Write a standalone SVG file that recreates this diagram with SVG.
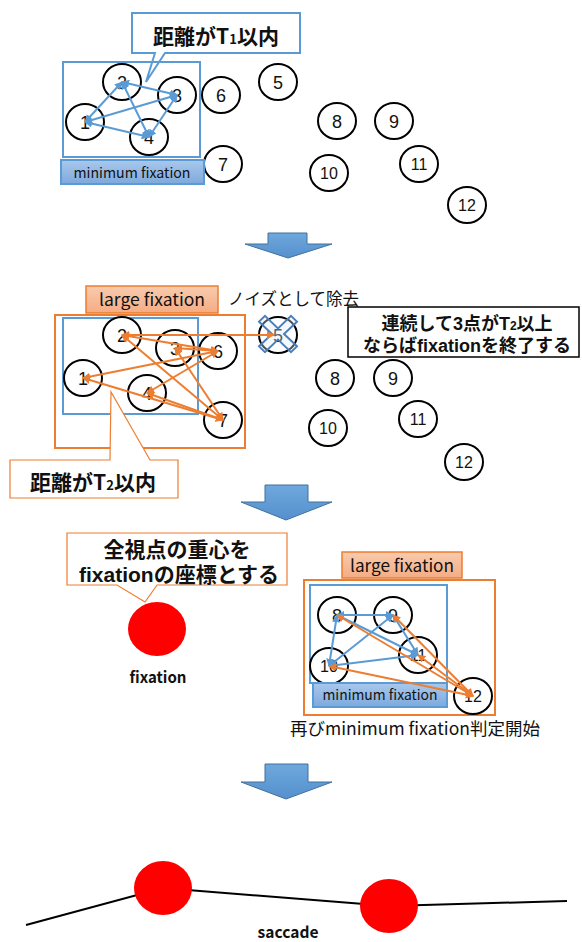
<svg xmlns="http://www.w3.org/2000/svg" width="582" height="942" viewBox="0 0 582 942">
<style>
text{font-family:"Noto Sans CJK JP","Noto Sans",sans-serif;fill:#111}
.ml{font-family:"Liberation Sans","Noto Sans CJK JP",sans-serif}
.nd ellipse{fill:#fff;stroke:#000;stroke-width:2}
.num{font-family:"Liberation Sans",sans-serif;font-size:18px;text-anchor:middle}
.num2{font-family:"Liberation Sans",sans-serif;font-size:16px;text-anchor:middle}
.bl{stroke:#5B9BD5;stroke-width:2;fill:none;marker-start:url(#bh);marker-end:url(#bh)}
.or{stroke:#ED7D31;stroke-width:2;fill:none;marker-start:url(#oh);marker-end:url(#oh)}
.bframe{fill:none;stroke:#5B9BD5;stroke-width:2}
.oframe{fill:none;stroke:#ED7D31;stroke-width:2}
.minlab{fill:url(#gb);stroke:#5B9BD5;stroke-width:2}
.larlab{fill:url(#go);stroke:#ED7D31;stroke-width:1.5}
.bigarrow{fill:url(#ga);stroke:#41719C;stroke-width:1}
.lab{font-size:14px;text-anchor:middle}
.lab2{font-size:17px;text-anchor:middle}
.call{font-size:21px;font-weight:bold;text-anchor:middle}
.red{fill:#FF0000}
</style>
<defs>
<marker id="bh" viewBox="0 0 10 10" refX="9" refY="5" markerWidth="4" markerHeight="4" orient="auto-start-reverse"><path d="M0,0 L10,5 L0,10 z" fill="#5B9BD5"/></marker>
<marker id="oh" viewBox="0 0 10 10" refX="9" refY="5" markerWidth="4" markerHeight="4" orient="auto-start-reverse"><path d="M0,0 L10,5 L0,10 z" fill="#ED7D31"/></marker>
<linearGradient id="gb" x1="0" y1="0" x2="0" y2="1"><stop offset="0" stop-color="#A9C8EC"/><stop offset="1" stop-color="#7EA9DC"/></linearGradient>
<linearGradient id="go" x1="0" y1="0" x2="0" y2="1"><stop offset="0" stop-color="#F8CBAD"/><stop offset="1" stop-color="#F4AC84"/></linearGradient>
<linearGradient id="ga" x1="0" y1="0" x2="0" y2="1"><stop offset="0" stop-color="#6FA8DC"/><stop offset="1" stop-color="#5590CE"/></linearGradient>
</defs>

<!-- Section 1 -->
<g id="callout-t1">
<path d="M132,13 H300 V53 H165 L146,82 L155,53 H132 Z" fill="#fff" stroke="#5B9BD5" stroke-width="2"/>
<text class="call" x="216" y="44">距離がT<tspan font-size="13">1</tspan>以内</text>
</g>
<g id="min-frame-1"><rect class="bframe" x="63" y="62" width="137" height="95"/></g>
<g id="s1-n1" class="nd"><ellipse cx="85" cy="122" rx="19" ry="18"/><text class="num" x="85" y="128.5">1</text></g>
<g id="s1-n2" class="nd"><ellipse cx="122" cy="82" rx="19" ry="18"/><text class="num" x="122" y="88.5">2</text></g>
<g id="s1-n3" class="nd"><ellipse cx="177" cy="95" rx="19" ry="18"/><text class="num" x="177" y="101.5">3</text></g>
<g id="s1-n4" class="nd"><ellipse cx="149" cy="137" rx="19" ry="18"/><text class="num" x="149" y="143.5">4</text></g>
<g id="s1-n5" class="nd"><ellipse cx="278" cy="82" rx="19" ry="18"/><text class="num" x="278" y="88.5">5</text></g>
<g id="s1-n6" class="nd"><ellipse cx="221" cy="95" rx="19" ry="18"/><text class="num" x="221" y="101.5">6</text></g>
<g id="s1-n7" class="nd"><ellipse cx="223" cy="164" rx="19" ry="18"/><text class="num" x="223" y="170.5">7</text></g>
<g id="s1-n8" class="nd"><ellipse cx="337" cy="121" rx="19" ry="18"/><text class="num" x="337" y="127.5">8</text></g>
<g id="s1-n9" class="nd"><ellipse cx="394" cy="121" rx="19" ry="18"/><text class="num" x="394" y="127.5">9</text></g>
<g id="s1-n10" class="nd"><ellipse cx="329" cy="173" rx="19" ry="18"/><text class="num2" x="329" y="179">10</text></g>
<g id="s1-n11" class="nd"><ellipse cx="419" cy="164" rx="19" ry="18"/><text class="num2" x="419" y="170">11</text></g>
<g id="s1-n12" class="nd"><ellipse cx="467" cy="205" rx="19" ry="18"/><text class="num2" x="467" y="211">12</text></g>
<g id="min-label-1"><rect class="minlab" x="61" y="160" width="143" height="24"/><text class="lab" x="132" y="178" textLength="117" lengthAdjust="spacingAndGlyphs">minimum fixation</text></g>

<!-- arrow 1 -->
<g id="arrow-1"><polygon class="bigarrow" points="268,233 307,233 307,244 332,244 288,258 245,244 268,244"/></g>

<!-- Section 2 -->
<g id="large-label-2"><rect class="larlab" x="86" y="286" width="132" height="27"/><text class="lab2" x="152" y="306" textLength="106" lengthAdjust="spacingAndGlyphs">large fixation</text></g>
<g id="large-frame-2"><rect class="oframe" x="55" y="315" width="190" height="133"/></g>
<g id="min-frame-2"><rect class="bframe" x="63" y="318" width="135" height="96"/></g>
<g id="s2-n1" class="nd"><ellipse cx="83" cy="378" rx="19" ry="18"/><text class="num" x="83" y="384.5">1</text></g>
<g id="s2-n2" class="nd"><ellipse cx="122" cy="335" rx="19" ry="18"/><text class="num" x="122" y="341.5">2</text></g>
<g id="s2-n3" class="nd"><ellipse cx="175" cy="348" rx="19" ry="18"/><text class="num" x="175" y="354.5">3</text></g>
<g id="s2-n4" class="nd"><ellipse cx="147" cy="393" rx="19" ry="18"/><text class="num" x="147" y="399.5">4</text></g>
<g id="s2-n6" class="nd"><ellipse cx="218" cy="351" rx="19" ry="18"/><text class="num" x="218" y="357.5">6</text></g>
<g id="s2-n7" class="nd"><ellipse cx="223" cy="420" rx="19" ry="18"/><text class="num" x="223" y="426.5">7</text></g>
<g id="s2-n5" class="nd"><ellipse cx="278" cy="335" rx="19" ry="18"/><text class="num" x="278" y="341.5">5</text>
<polygon transform="translate(278,334) scale(1,0.95)" points="-13,-19 0,-6 13,-19 19,-13 6,0 19,13 13,19 0,6 -13,19 -19,13 -6,0 -19,-13" fill="#DEEBF7" fill-opacity="0.35" stroke="#4A7EBB" stroke-width="2"/></g>
<g id="s2-n8" class="nd"><ellipse cx="335" cy="378" rx="19" ry="18"/><text class="num" x="335" y="384.5">8</text></g>
<g id="s2-n9" class="nd"><ellipse cx="393" cy="378" rx="19" ry="18"/><text class="num" x="393" y="384.5">9</text></g>
<g id="s2-n10" class="nd"><ellipse cx="328" cy="428" rx="19" ry="18"/><text class="num2" x="328" y="434">10</text></g>
<g id="s2-n11" class="nd"><ellipse cx="418" cy="419" rx="19" ry="18"/><text class="num2" x="418" y="425">11</text></g>
<g id="s2-n12" class="nd"><ellipse cx="464" cy="462" rx="19" ry="18"/><text class="num2" x="464" y="468">12</text></g>
<g id="noise-label"><text x="228" y="305" font-size="16.5">ノイズとして除去</text></g>
<g id="end-box"><rect x="348" y="307" width="231" height="50" fill="#fff" stroke="#000" stroke-width="1.5"/>
<text class="ml" x="467" y="330" font-size="18" font-weight="bold" text-anchor="middle">連続して3点がT<tspan font-size="12">2</tspan>以上</text>
<text class="ml" x="467" y="352" font-size="18" font-weight="bold" text-anchor="middle">ならばfixationを終了する</text></g>
<g id="callout-t2">
<path d="M10,460 H110 L111,392 L150,460 H178 V498 H10 Z" fill="#fff" stroke="#ED7D31" stroke-width="1.2"/>
<text class="call" x="93" y="490">距離がT<tspan font-size="13">2</tspan>以内</text>
</g>

<!-- arrow 2 -->
<g id="arrow-2"><polygon class="bigarrow" points="265,485 308,485 308,502 332,502 286,520 241,502 265,502"/></g>

<!-- Section 3 -->
<g id="callout-centroid">
<path d="M67,533 H287 V585 H157 L145,602 L117,585 H67 Z" fill="#fff" stroke="#ED7D31" stroke-width="1.2"/>
<text class="call ml" x="177" y="557">全視点の重心を</text>
<text class="call ml" x="179" y="582">fixationの座標とする</text>
</g>
<g id="fixation-point"><ellipse class="red" cx="157" cy="629" rx="29" ry="27"/><text x="158" y="683" font-size="16" font-weight="bold" text-anchor="middle" textLength="57" lengthAdjust="spacingAndGlyphs">fixation</text></g>
<g id="large-label-3"><rect class="larlab" x="342" y="552" width="120" height="26"/><text class="lab2" x="402" y="572" textLength="104" lengthAdjust="spacingAndGlyphs">large fixation</text></g>
<g id="large-frame-3"><rect class="oframe" x="304" y="580" width="191" height="135"/></g>
<g id="min-frame-3"><rect class="bframe" x="310" y="585" width="137" height="98"/></g>
<g id="s3-n8" class="nd"><ellipse cx="337" cy="615" rx="19" ry="18"/><text class="num" x="337" y="621.5">8</text></g>
<g id="s3-n9" class="nd"><ellipse cx="393" cy="615" rx="19" ry="18"/><text class="num" x="393" y="621.5">9</text></g>
<g id="s3-n11" class="nd"><ellipse cx="418" cy="655" rx="19" ry="18"/><text class="num2" x="418" y="661">11</text></g>
<g id="s3-n10" class="nd"><ellipse cx="329" cy="666" rx="19" ry="18"/><text class="num2" x="329" y="672">10</text></g>
<g id="s3-n12" class="nd"><ellipse cx="473" cy="696" rx="19" ry="18"/><text class="num2" x="473" y="702">12</text></g>
<g id="min-label-3"><rect class="minlab" x="313" y="683" width="134" height="24"/><text class="lab" x="380" y="700" textLength="115" lengthAdjust="spacingAndGlyphs">minimum fixation</text></g>
<g id="restart-label"><text x="415" y="735" font-size="17" text-anchor="middle" textLength="250" lengthAdjust="spacingAndGlyphs">再びminimum fixation判定開始</text></g>

<!-- arrow 3 -->
<g id="arrow-3"><polygon class="bigarrow" points="265,764 308,764 308,782 332,782 286,799 241,782 265,782"/></g>

<!-- Section 4 -->
<g id="saccade-path"><polyline points="26,925 163,888 389,906 567,901" fill="none" stroke="#000" stroke-width="2"/></g>
<g id="fix-a"><ellipse class="red" cx="163" cy="888" rx="29" ry="27"/></g>
<g id="fix-b"><ellipse class="red" cx="389" cy="906" rx="29" ry="27"/></g>
<g id="saccade-label"><text x="288" y="938" font-size="16" font-weight="bold" text-anchor="middle" textLength="61" lengthAdjust="spacingAndGlyphs">saccade</text></g>

<!-- connectors -->
<g id="connectors">
<line class="bl" x1="122" y1="82" x2="177" y2="95"/>
<line class="bl" x1="122" y1="82" x2="85" y2="122"/>
<line class="bl" x1="122" y1="82" x2="149" y2="137"/>
<line class="bl" x1="85" y1="122" x2="177" y2="95"/>
<line class="bl" x1="85" y1="122" x2="149" y2="137"/>
<line class="bl" x1="177" y1="95" x2="149" y2="137"/>

<line class="or" x1="122" y1="335" x2="274" y2="335"/>
<line class="or" x1="122" y1="335" x2="218" y2="351"/>
<line class="or" x1="175" y1="348" x2="218" y2="351"/>
<line class="or" x1="83" y1="378" x2="218" y2="351"/>
<line class="or" x1="147" y1="393" x2="218" y2="351"/>
<line class="or" x1="122" y1="335" x2="223" y2="420"/>
<line class="or" x1="175" y1="348" x2="223" y2="420"/>
<line class="or" x1="83" y1="378" x2="223" y2="420"/>
<line class="or" x1="147" y1="393" x2="223" y2="420"/>

<line class="bl" x1="337" y1="615" x2="393" y2="615"/>
<line class="bl" x1="337" y1="615" x2="329" y2="666"/>
<line class="bl" x1="337" y1="615" x2="418" y2="655"/>
<line class="bl" x1="393" y1="615" x2="329" y2="666"/>
<line class="bl" x1="393" y1="615" x2="418" y2="655"/>
<line class="bl" x1="329" y1="666" x2="418" y2="655"/>
<line class="or" x1="473" y1="696" x2="337" y2="615"/>
<line class="or" x1="473" y1="696" x2="393" y2="615"/>
<line class="or" x1="473" y1="696" x2="329" y2="666"/>
<line class="or" x1="473" y1="696" x2="418" y2="655"/>
</g>
</svg>
